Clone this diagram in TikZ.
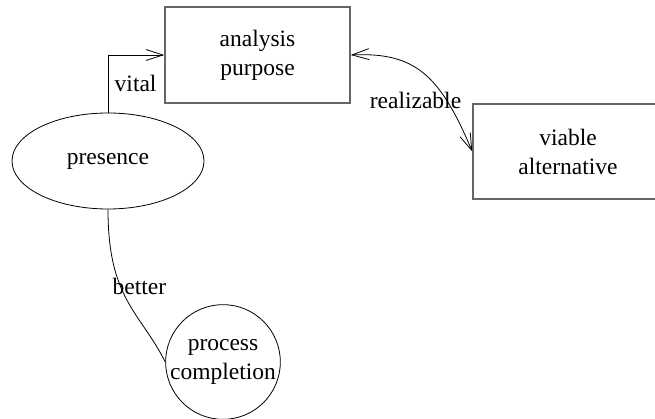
\documentclass[tikz,border=0pt]{standalone}
\usepackage{fontspec}
\setmainfont{Liberation Serif}
\usetikzlibrary{positioning, arrows.meta, shapes.geometric}

\begin{document}
\begin{tikzpicture}[
    >={Straight Barb[length=17pt,width=11pt]},
    font=\fontsize{23.5}{29}\selectfont,
    box/.style={
        draw=black!60, line width=1.5pt,
        minimum width=185pt, minimum height=96pt,
        align=center, inner sep=0pt,
    },
    oval/.style={
        draw, ellipse, line width=0.8pt,
        minimum width=192pt, minimum height=96pt,
        align=center, inner sep=0pt,
    },
    round/.style={
        draw, circle, line width=0.8pt,
        minimum size=114pt, align=center, inner sep=0pt,
    },
    link/.style={line width=0.8pt, draw=black},
]

\useasboundingbox (0,0) rectangle (655pt,-419pt);

\node[box] (ana) at (257.5pt,-55pt) {analysis\\purpose};
\node[box, minimum width=190pt, minimum height=95pt] (via) at (568pt,-151.5pt) {viable\\alternative};
\node[oval] (pres) at (108pt,-161pt) {presence};
\node[round] (proc) at (223pt,-362pt) {process\\completion};

% edges
\draw[link, ->] (pres.north) |- node[pos=0.25, right, xshift=3pt] (lvital) {vital} (ana.west);
\draw[link, <->] (ana.east) .. controls (415pt,-52pt) and (440pt,-75pt) .. node[pos=0.5, xshift=-8pt, yshift=-27pt] (lreal) {realizable} (via.west);
\draw[link] (pres.south) .. controls +(0pt,-90pt) and +(-25pt,50pt) .. node[pos=0.39, xshift=19pt] (lbetter) {better} (proc.west);

\end{tikzpicture}
\end{document}
